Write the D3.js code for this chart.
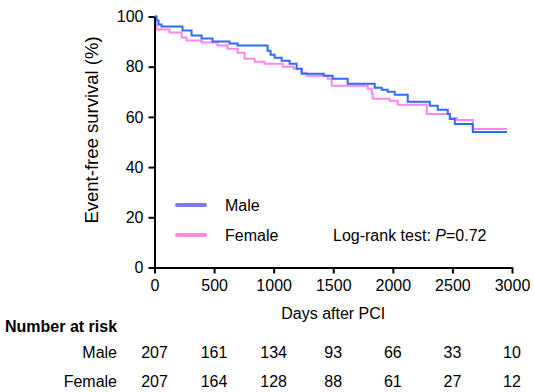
<!DOCTYPE html>
<html lang="en">
<head>
    <meta charset="UTF-8">
    <title>Event-free survival by sex</title>
    <style>
        body { margin: 0; background: #fff; }
        svg { display: block; font-family: "Liberation Sans", Arial, sans-serif; }
        .axis path, .axis line { stroke: #000; stroke-width: 2px; }
        .axis text { font-size: 16px; fill: #000; }
        .lbl { font-size: 16px; fill: #000; }
    </style>
</head>
<body>
<div id="chart"></div>
<script src="https://d3js.org/d3.v7.min.js"></script>
<script>
// Kaplan-Meier steps (day, survival %)
const maleDays = [0, 17, 34, 59, 235, 311, 395, 487, 630, 697, 949, 974, 1008, 1067, 1134, 1193, 1235, 1420, 1495, 1621, 1848, 1907, 1957, 2016, 2125, 2310, 2377, 2461, 2478, 2520, 2671, 2958];
const maleSurv = [100, 98.4, 96.8, 96, 94.4, 92.4, 91.2, 90, 89.2, 88.4, 86.4, 84.8, 83.6, 82.4, 81.2, 79.2, 77.2, 76.4, 75.2, 73.2, 71.6, 70.8, 70, 68.8, 66, 64.4, 62.8, 61.2, 59.2, 57.2, 54, 54];
const femaleDays = [0, 8, 17, 126, 227, 269, 395, 529, 613, 697, 756, 840, 924, 1075, 1168, 1235, 1277, 1453, 1487, 1789, 1823, 1831, 1974, 2041, 2285, 2478, 2537, 2671, 2958];
const femaleSurv = [100, 97.6, 94.8, 93.6, 91.6, 90.4, 89.6, 88.4, 87.2, 85.6, 83.2, 82, 81.2, 80, 79.2, 77.6, 76.4, 75.2, 72.4, 71.2, 69.2, 67.2, 66.4, 64.8, 61.2, 59.6, 58.8, 55.2, 55.2];

const xTicks = [0, 500, 1000, 1500, 2000, 2500, 3000];
const yTicks = [0, 20, 40, 60, 80, 100];
const riskMale = [207, 161, 134, 93, 66, 33, 10];
const riskFemale = [207, 164, 128, 88, 61, 27, 12];

const width = 534, height = 392;

const svg = d3.select('#chart')
    .append('svg')
    .attr('width', width)
    .attr('height', height);

const x = d3.scaleLinear().domain([0, 3000]).range([154.5, 512]);
const y = d3.scaleLinear().domain([0, 100]).range([267.5, 16.5]);

const line = d3.line()
    .x(d => x(d[0]))
    .y(d => y(d[1]))
    .curve(d3.curveStepAfter);

const series = [
    { name: 'Female', pts: d3.zip(femaleDays, femaleSurv), color: '#ff85ee' },
    { name: 'Male', pts: d3.zip(maleDays, maleSurv), color: '#2e6bff' }
];

series.forEach(s => {
    svg.append('path')
        .datum(s.pts)
        .attr('fill', 'none')
        .attr('stroke', s.color)
        .attr('stroke-width', 2)
        .attr('d', line);
});

// axes
svg.append('g')
    .attr('class', 'axis')
    .attr('transform', `translate(0,${y(0)})`)
    .call(d3.axisBottom(x).tickValues(xTicks).tickFormat(d3.format('d'))
        .tickSize(6).tickPadding(6).tickSizeOuter(0));

svg.append('g')
    .attr('class', 'axis')
    .attr('transform', `translate(${x(0)},0)`)
    .call(d3.axisLeft(y).tickValues(yTicks).tickSize(6).tickPadding(5).tickSizeOuter(0));

svg.append('text')
    .attr('class', 'lbl')
    .attr('transform', 'translate(98,130) rotate(-90)')
    .attr('text-anchor', 'middle')
    .style('font-size', '18.5px')
    .text('Event-free survival (%)');

svg.append('text')
    .attr('class', 'lbl')
    .attr('x', x(1500))
    .attr('y', 319)
    .attr('text-anchor', 'middle')
    .text('Days after PCI');

// legend
const legend = [
    { name: 'Male', color: '#7a7cf7', y: 205 },
    { name: 'Female', color: '#ff8ada', y: 235 }
];
legend.forEach(l => {
    svg.append('line')
        .attr('x1', 177).attr('x2', 205)
        .attr('y1', l.y).attr('y2', l.y)
        .attr('stroke', l.color)
        .attr('stroke-width', 4)
        .attr('stroke-linecap', 'round');
    svg.append('text')
        .attr('class', 'lbl')
        .attr('x', 225)
        .attr('y', l.y + 6)
        .text(l.name);
});

const lr = svg.append('text')
    .attr('class', 'lbl')
    .attr('x', 333)
    .attr('y', 241);
lr.append('tspan').text('Log-rank test: ');
lr.append('tspan').style('font-style', 'italic').text('P');
lr.append('tspan').text('=0.72');

// number at risk table
svg.append('text')
    .attr('class', 'lbl')
    .attr('x', 5)
    .attr('y', 332)
    .style('font-weight', 'bold')
    .text('Number at risk');

const rows = [
    { name: 'Male', vals: riskMale, y: 358 },
    { name: 'Female', vals: riskFemale, y: 387 }
];
rows.forEach(r => {
    svg.append('text')
        .attr('class', 'lbl')
        .attr('x', 117)
        .attr('y', r.y)
        .attr('text-anchor', 'end')
        .text(r.name);
    svg.selectAll(null)
        .data(r.vals)
        .enter()
        .append('text')
        .attr('class', 'lbl')
        .attr('x', (d, i) => x(xTicks[i]))
        .attr('y', r.y)
        .attr('text-anchor', 'middle')
        .text(d => d);
});
</script>
</body>
</html>
